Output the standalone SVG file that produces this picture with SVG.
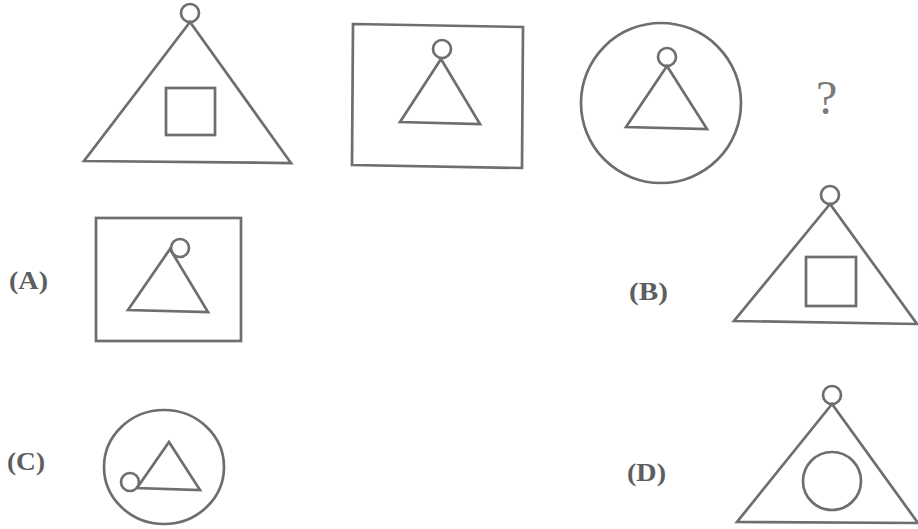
<svg xmlns="http://www.w3.org/2000/svg" width="918" height="529" viewBox="0 0 918 529">
<style>
.s{fill:none;stroke:#6e6e6e;stroke-width:2.7;stroke-linejoin:miter}
.t{font-family:"Liberation Serif","DejaVu Serif",serif;font-size:26px;font-weight:bold;fill:#5e5e5e}
.q{font-family:"Liberation Serif","DejaVu Serif",serif;font-size:48px;fill:#7a7a7a}
</style>
<rect width="918" height="529" fill="#fff"/>
<g id="fig1">
<circle class="s" cx="190" cy="13" r="9"/>
<polygon class="s" points="190,22 84,161 291,163"/>
<rect class="s" x="166" y="88" width="49" height="47"/>
</g>
<g id="fig2">
<polygon class="s" points="353,24 523,27 522,168 352,165"/>
<circle class="s" cx="442" cy="49" r="9"/>
<polygon class="s" points="441,59 400,122 480,124"/>
</g>
<g id="fig3">
<circle class="s" cx="661" cy="103" r="80"/>
<circle class="s" cx="667" cy="57" r="9"/>
<polygon class="s" points="667,66 626,127 707,129"/>
</g>
<g id="question">
<text class="q" x="816" y="114">?</text>
</g>
<g id="optA">
<text class="t" x="9" y="289" textLength="39" lengthAdjust="spacingAndGlyphs">(A)</text>
<rect class="s" x="96" y="218" width="145" height="123"/>
<polygon class="s" points="170,249 128,310 208,312"/>
<circle class="s" cx="180" cy="248" r="9"/>
</g>
<g id="optB">
<text class="t" x="629" y="300" textLength="39" lengthAdjust="spacingAndGlyphs">(B)</text>
<circle class="s" cx="830" cy="195" r="9"/>
<polygon class="s" points="830,204 734,321 917,324"/>
<rect class="s" x="806" y="257" width="50" height="49"/>
</g>
<g id="optC">
<text class="t" x="7" y="470" textLength="38" lengthAdjust="spacingAndGlyphs">(C)</text>
<ellipse class="s" cx="164" cy="467" rx="60" ry="57"/>
<polygon class="s" points="169,442 137,488 200,490"/>
<circle class="s" cx="130" cy="482" r="9"/>
</g>
<g id="optD">
<text class="t" x="627" y="481" textLength="39" lengthAdjust="spacingAndGlyphs">(D)</text>
<circle class="s" cx="832" cy="395" r="9"/>
<polygon class="s" points="832,404 737,522 918,523"/>
<circle class="s" cx="832" cy="481" r="29"/>
</g>
<g id="connectors"/>
</svg>
